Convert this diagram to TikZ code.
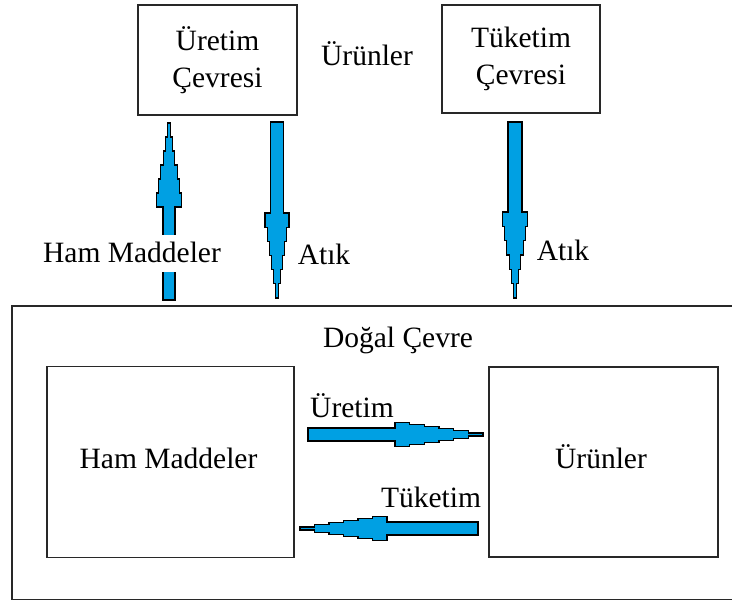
\documentclass[tikz,border=0pt]{standalone}
\usepackage{fontspec}
\setmainfont{Liberation Serif}
\definecolor{flowblue}{RGB}{0,160,227}
\definecolor{edgegray}{RGB}{40,40,40}

% Stepped block arrow from a tail coordinate to a tip coordinate.
% #1 tail, #2 tip, #3 head length, #4 shaft half-width, #5 head half-width
\newcommand\blockarrow[5]{%
  \pgfpointdiff{\pgfpointanchor{#1}{center}}{\pgfpointanchor{#2}{center}}%
  \pgfgetlastxy{\badx}{\bady}%
  \pgfmathsetmacro\balen{veclen(\badx,\bady)}%
  \pgfmathsetmacro\baang{atan2(\bady,\badx)}%
  \pgfmathsetmacro\bahead{\balen-#3}%
  \begin{scope}[shift={(#1)}, rotate=\baang, x=1pt, y=1pt]
    \draw[flowarrow] (0,-#4) -- (0,#4) -- (\bahead,#4)
      \foreach \i in {0,...,5}{
        -- ({\bahead+#3*\i/6},{#5-(#5-1.5)*\i/5})
        -- ({\bahead+#3*(\i+1)/6},{#5-(#5-1.5)*\i/5}) }
      \foreach \i in {5,4,...,0}{
        -- ({\bahead+#3*(\i+1)/6},{-#5+(#5-1.5)*\i/5})
        -- ({\bahead+#3*\i/6},{-#5+(#5-1.5)*\i/5}) }
      -- (\bahead,-#4) -- cycle;
  \end{scope}}

\begin{document}
\begin{tikzpicture}[x=1pt, y=-1pt,
  every node/.style={font=\fontsize{29.5}{36.5}\selectfont, inner sep=0pt},
  box/.style={draw=edgegray, line width=1.4pt, align=center},
  frame/.style={draw=edgegray, line width=1.4pt},
  flowarrow/.style={fill=flowblue, draw=black, line width=1.1pt, line join=miter},
  txt/.style={anchor=base}]
  \useasboundingbox (0,0) rectangle (732,600);
  \clip (0,0) rectangle (732,600);

  % outer environment frame (runs past the right edge)
  \draw[frame] (12,306) rectangle (760,599.3);
  \node[txt] (dogal) at (398,347) {Doğal Çevre};

  % top boxes
  \node[box, minimum width=159pt, minimum height=110pt] (uretimC) at (217.5,60) {Üretim\\Çevresi};
  \node[box, minimum width=158pt, minimum height=108pt] (tuketimC) at (521,59) {Tüketim\\Çevresi};
  \node[txt] (urunTop) at (367,65) {Ürünler};

  % inner boxes
  \node[box, minimum width=247pt, minimum height=191pt] (hamBox) at (170.5,462) {};
  \node[txt] (hamText) at (168.5,468) {Ham Maddeler};
  \node[box, minimum width=229pt, minimum height=190pt] (urunBox) at (603.5,462) {};
  \node[txt] (urunText) at (601,468) {Ürünler};

  % arrow end points
  \coordinate (hamTail) at (169,300);   \coordinate (hamTip) at (169,123);
  \coordinate (atikOneTail) at (277,122); \coordinate (atikOneTip) at (277,298);
  \coordinate (atikTwoTail) at (515,122); \coordinate (atikTwoTip) at (515,298);
  \coordinate (uretTail) at (308,434.5); \coordinate (uretTip) at (483,434.5);
  \coordinate (tukTail) at (478,528.5); \coordinate (tukTip) at (300,528.5);

  \blockarrow{hamTail}{hamTip}{84}{6}{12.5}
  \blockarrow{atikOneTail}{atikOneTip}{85}{6.5}{12}
  \blockarrow{atikTwoTail}{atikTwoTip}{86}{7}{12.5}
  \blockarrow{uretTail}{uretTip}{88}{6.5}{12}
  \blockarrow{tukTail}{tukTip}{87}{6.5}{12}

  % the raw-material label interrupts the upward shaft
  \fill[white] (40,235) rectangle (224,272);
  \node[txt] (hamLabel) at (132,262) {Ham Maddeler};
  \node (atikOne) at (324,254) {Atık};
  \node (atikTwo) at (563,250) {Atık};
  \node[txt] (uretLabel) at (352,417) {Üretim};
  \node[txt] (tukLabel) at (431,507) {Tüketim};
\end{tikzpicture}
\end{document}
